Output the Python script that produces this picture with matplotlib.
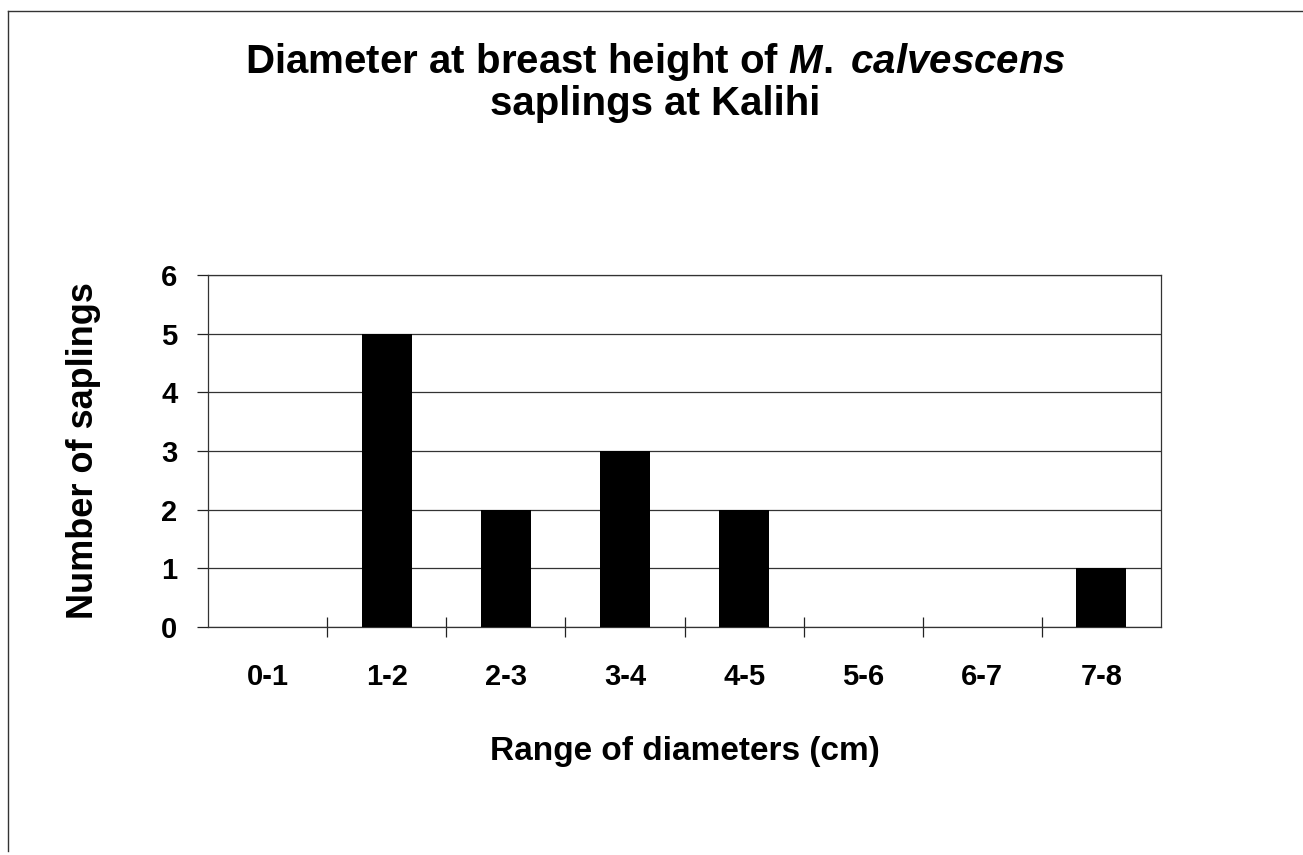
import matplotlib
matplotlib.use("Agg")
from matplotlib import pyplot as plt
from matplotlib.lines import Line2D
import numpy as np

# diameter classes and counts
categories = ["0-1", "1-2", "2-3", "3-4", "4-5", "5-6", "6-7", "7-8"]
counts = [0, 5, 2, 3, 2, 0, 0, 1]
y_ticks = [0, 1, 2, 3, 4, 5, 6]

plt.rcParams["font.family"] = ["Liberation Sans", "DejaVu Sans"]
plt.rcParams["font.weight"] = "bold"
plt.rcParams["mathtext.fontset"] = "custom"
plt.rcParams["mathtext.rm"] = "Liberation Sans:bold"
plt.rcParams["mathtext.it"] = "Liberation Sans:italic:bold"

W, H = 1303, 855
fig = plt.figure(figsize=(W / 100, H / 100), dpi=100)
ax = fig.add_axes([208 / W, 1 - 627 / H, (1161 - 208) / W, (627 - 275) / H])

x = np.arange(len(categories))
ax.bar(x, counts, width=0.42, color="black", zorder=3)

ax.set_xlim(-0.5, len(categories) - 0.5)
ax.set_ylim(0, 6)
ax.set_yticks(y_ticks)
ax.set_yticklabels([str(v) for v in y_ticks], fontsize=21, fontweight="bold")
ax.yaxis.grid(True, color="#333333", linewidth=0.9, zorder=0)

# category labels centred, tick marks on the boundaries
ax.set_xticks(x)
ax.set_xticklabels(categories, fontsize=21, fontweight="bold")
ax.tick_params(axis="x", length=0, pad=26)
ax.set_xticks(np.arange(0.5, len(categories) - 0.5), minor=True)
ax.tick_params(axis="x", which="minor", direction="inout", length=14, width=0.9, color="#222222")
ax.tick_params(axis="y", direction="out", length=8, width=0.9, color="#222222", pad=14)

for s in ax.spines.values():
    s.set_color("#333333")
    s.set_linewidth(0.9)

ax.set_xlabel("Range of diameters (cm)", fontsize=24, fontweight="bold")
ax.xaxis.set_label_coords(0.5, -0.31)
ax.set_ylabel("Number of saplings", fontsize=26, fontweight="bold")
ax.yaxis.set_label_coords(-0.112, 0.5)

fig.text(655 / W, 1 - 62 / H, r"Diameter at breast height of $M.\;calvescens$",
         ha="center", va="center", fontsize=29, fontweight="bold")
fig.text(655 / W, 1 - 104 / H, "saplings at Kalihi",
         ha="center", va="center", fontsize=29, fontweight="bold")

# outer chart frame (top and left edges visible)
fig.add_artist(Line2D([8 / W, 1], [1 - 11 / H, 1 - 11 / H], color="#333333", linewidth=1))
fig.add_artist(Line2D([8 / W, 8 / W], [1 - 11 / H, 1 - 851 / H], color="#333333", linewidth=1))

plt.savefig("out.png", dpi=100)
